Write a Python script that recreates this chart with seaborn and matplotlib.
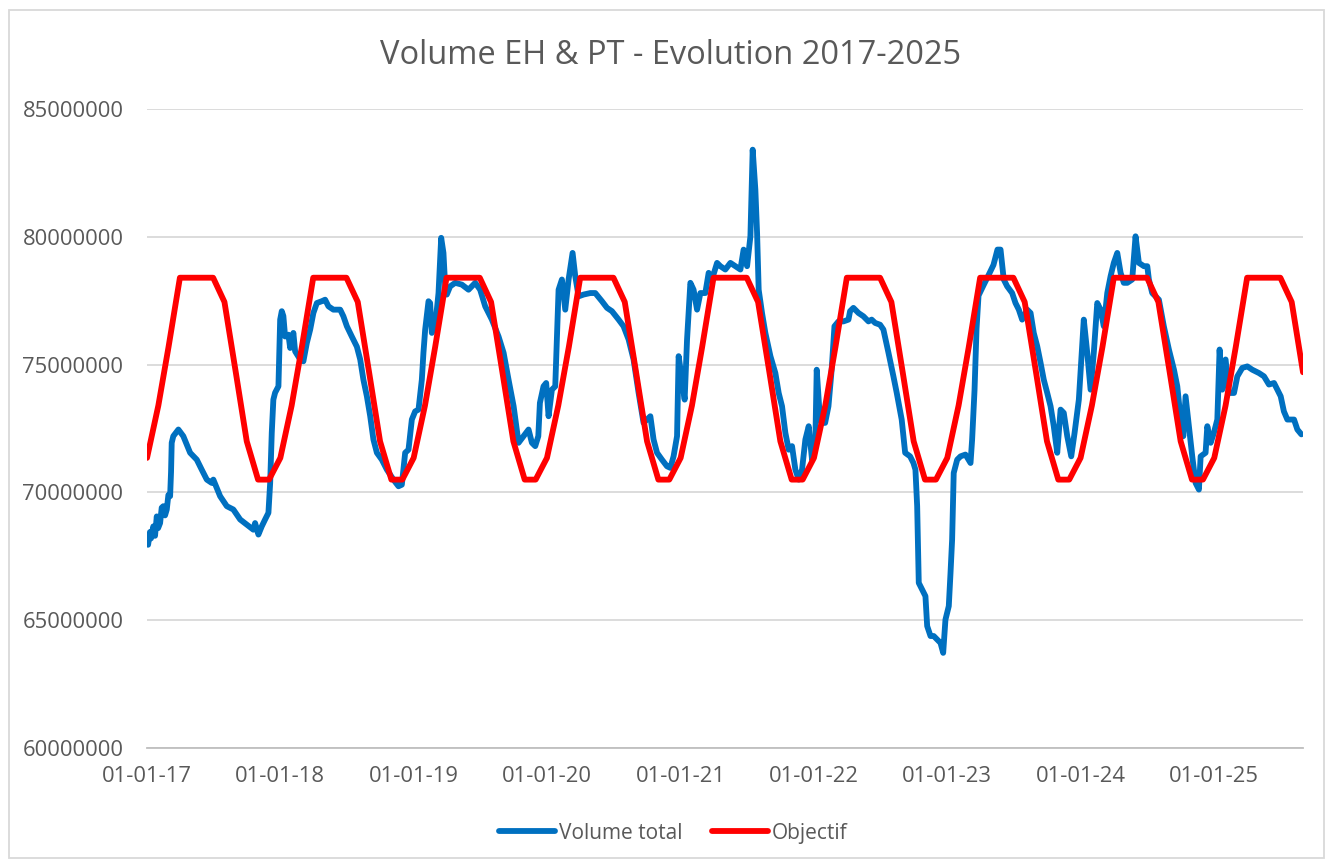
import numpy as np
import pandas as pd
import matplotlib
matplotlib.use("Agg")
import matplotlib.pyplot as plt
import matplotlib.dates as mdates
from matplotlib.ticker import FuncFormatter, MultipleLocator
from matplotlib.patches import Rectangle
import seaborn as sns

# Volume total : years elapsed since 01-01-2017, volume in millions
blue_yr = [
    0.000, 0.008, 0.022, 0.030, 0.047, 0.060, 0.073, 0.083, 0.098, 0.110,
    0.122, 0.135, 0.148, 0.160, 0.173, 0.180, 0.185, 0.197, 0.235, 0.272,
    0.323, 0.373, 0.410, 0.448, 0.485, 0.497, 0.548, 0.598, 0.647, 0.698,
    0.748, 0.797, 0.810, 0.835, 0.860, 0.885, 0.910, 0.923, 0.935, 0.947,
    0.960, 0.985, 0.998, 1.010, 1.022, 1.035, 1.060, 1.073, 1.097, 1.110,
    1.148, 1.172, 1.198, 1.223, 1.247, 1.273, 1.310, 1.335, 1.360, 1.397,
    1.448, 1.472, 1.498, 1.535, 1.573, 1.598, 1.622, 1.648, 1.673, 1.697,
    1.723, 1.760, 1.798, 1.847, 1.885, 1.910, 1.935, 1.960, 1.985, 2.010,
    2.035, 2.060, 2.072, 2.085, 2.110, 2.122, 2.135, 2.160, 2.185, 2.205,
    2.222, 2.235, 2.247, 2.272, 2.310, 2.360, 2.410, 2.460, 2.497, 2.535,
    2.585, 2.635, 2.673, 2.710, 2.748, 2.785, 2.823, 2.860, 2.885, 2.910,
    2.933, 2.945, 2.972, 2.992, 3.010, 3.035, 3.060, 3.085, 3.110, 3.135,
    3.160, 3.190, 3.210, 3.235, 3.272, 3.323, 3.360, 3.410, 3.448, 3.485,
    3.535, 3.572, 3.610, 3.647, 3.685, 3.722, 3.748, 3.773, 3.797, 3.823,
    3.860, 3.898, 3.923, 3.947, 3.973, 3.985, 4.010, 4.030, 4.048, 4.073,
    4.097, 4.123, 4.148, 4.185, 4.210, 4.235, 4.273, 4.298, 4.335, 4.373,
    4.410, 4.448, 4.472, 4.498, 4.523, 4.540, 4.560, 4.573, 4.585, 4.610,
    4.635, 4.673, 4.710, 4.735, 4.760, 4.785, 4.810, 4.835, 4.860, 4.885,
    4.910, 4.935, 4.960, 4.985, 5.010, 5.020, 5.038, 5.057, 5.083, 5.108,
    5.132, 5.153, 5.183, 5.220, 5.258, 5.270, 5.295, 5.333, 5.370, 5.408,
    5.432, 5.458, 5.495, 5.520, 5.558, 5.595, 5.620, 5.657, 5.683, 5.720,
    5.745, 5.760, 5.773, 5.785, 5.810, 5.835, 5.848, 5.873, 5.897, 5.923,
    5.948, 5.968, 5.985, 6.010, 6.023, 6.035, 6.047, 6.073, 6.098, 6.135,
    6.173, 6.185, 6.203, 6.218, 6.233, 6.270, 6.308, 6.345, 6.375, 6.398,
    6.422, 6.448, 6.485, 6.510, 6.535, 6.560, 6.598, 6.623, 6.647, 6.673,
    6.698, 6.722, 6.748, 6.773, 6.797, 6.823, 6.848, 6.872, 6.898, 6.928,
    6.953, 6.985, 7.022, 7.048, 7.073, 7.097, 7.123, 7.148, 7.172, 7.198,
    7.223, 7.247, 7.273, 7.298, 7.322, 7.348, 7.385, 7.410, 7.435, 7.473,
    7.498, 7.510, 7.535, 7.585, 7.622, 7.660, 7.698, 7.723, 7.748, 7.768,
    7.785, 7.810, 7.835, 7.860, 7.885, 7.898, 7.935, 7.948, 7.973, 7.997,
    8.023, 8.040, 8.060, 8.085, 8.110, 8.148, 8.173, 8.210, 8.248, 8.285,
    8.335, 8.373, 8.410, 8.448, 8.473, 8.498, 8.522, 8.548, 8.598, 8.623,
    8.653,
]
blue_val = [
    68.15, 67.95, 68.45, 68.20, 68.67, 68.30, 69.06, 68.60, 68.80, 69.40,
    69.46, 69.10, 69.33, 69.90, 69.85, 70.80, 71.94, 72.20, 72.46, 72.20,
    71.55, 71.28, 70.89, 70.50, 70.37, 70.50, 69.85, 69.46, 69.33, 68.94,
    68.74, 68.54, 68.80, 68.35, 68.67, 68.94, 69.20, 70.37, 72.33, 73.63,
    73.90, 74.15, 76.76, 77.09, 76.90, 76.10, 76.17, 75.65, 76.24, 75.52,
    75.20, 75.13, 75.85, 76.37, 77.02, 77.41, 77.48, 77.54, 77.28, 77.15,
    77.15, 76.89, 76.50, 76.10, 75.70, 75.20, 74.41, 73.76, 72.98, 72.07,
    71.55, 71.28, 70.89, 70.50, 70.24, 70.30, 71.55, 71.67, 72.85, 73.17,
    73.24, 74.41, 75.46, 76.37, 77.48, 77.41, 76.24, 76.50, 77.80, 79.96,
    79.37, 78.06, 77.74, 78.06, 78.20, 78.13, 77.93, 78.20, 77.93, 77.28,
    76.76, 76.10, 75.46, 74.41, 73.37, 71.94, 72.20, 72.46, 71.94, 71.81,
    72.20, 73.50, 74.15, 74.28, 72.98, 74.02, 74.15, 77.93, 78.33, 77.15,
    78.33, 79.37, 78.46, 77.67, 77.74, 77.80, 77.80, 77.48, 77.22, 77.09,
    76.76, 76.50, 75.98, 75.20, 73.89, 72.72, 72.85, 72.98, 72.07, 71.55,
    71.28, 71.02, 70.96, 71.41, 72.20, 75.33, 74.41, 73.63, 75.98, 78.20,
    77.93, 77.15, 77.80, 77.80, 78.59, 78.33, 78.98, 78.85, 78.72, 78.98,
    78.85, 78.72, 79.50, 78.85, 80.02, 83.41, 81.85, 80.15, 77.93, 77.02,
    76.24, 75.33, 74.67, 73.89, 73.37, 72.33, 71.67, 71.81, 70.89, 70.50,
    70.89, 72.07, 72.59, 71.28, 72.07, 74.80, 73.37, 72.72, 72.72, 73.37,
    74.80, 76.50, 76.69, 76.69, 76.76, 77.09, 77.22, 77.02, 76.89, 76.69,
    76.76, 76.63, 76.56, 76.37, 75.46, 74.54, 73.89, 72.85, 71.55, 71.41,
    71.15, 70.89, 69.46, 66.46, 66.20, 65.94, 64.77, 64.38, 64.38, 64.24,
    64.11, 63.72, 65.02, 65.55, 66.85, 68.15, 70.76, 71.28, 71.41, 71.48,
    71.15, 72.07, 74.00, 76.40, 77.70, 78.10, 78.50, 78.90, 79.50, 79.50,
    78.33, 78.06, 77.80, 77.41, 77.15, 76.76, 77.15, 77.02, 76.24, 75.72,
    75.07, 74.41, 73.89, 73.37, 72.59, 71.55, 73.24, 73.11, 72.20, 71.41,
    72.33, 73.63, 76.76, 75.46, 74.02, 75.46, 77.41, 77.15, 76.50, 77.80,
    78.46, 78.98, 79.37, 78.59, 78.20, 78.20, 78.33, 80.02, 78.98, 78.85,
    78.85, 78.33, 77.80, 77.54, 76.50, 75.59, 74.80, 74.15, 72.85, 72.20,
    73.76, 72.59, 71.41, 70.37, 70.11, 71.41, 71.55, 72.59, 71.94, 72.33,
    72.85, 75.59, 74.02, 75.20, 73.89, 73.89, 74.54, 74.87, 74.93, 74.80,
    74.67, 74.54, 74.22, 74.28, 74.02, 73.76, 73.17, 72.85, 72.85, 72.46,
    72.27,
]

# Objectif : monthly target (millions), same profile each year, Jan .. Dec
target_months = [71.35, 73.40, 75.70, 78.40, 78.40, 78.40,
                 78.40, 77.45, 74.70, 72.00, 70.50, 70.50]
target_start = "2017-01-01"
target_end = "2025-09-01"

x_ticks = pd.date_range("2017-01-01", "2025-01-01", freq="YS")

base = pd.Timestamp("2017-01-01")
df_vol = pd.DataFrame({
    "date": base + pd.to_timedelta(np.array(blue_yr) * 365.25, unit="D"),
    "value": np.array(blue_val) * 1e6,
})
target_dates = pd.date_range(target_start, target_end, freq="MS")
df_obj = pd.DataFrame({
    "date": target_dates,
    "value": np.array([target_months[d.month - 1] for d in target_dates]) * 1e6,
})

sns.set_style("white")
plt.rcParams["font.family"] = ["Open Sans", "DejaVu Sans"]
grey = "#595959"

fig = plt.figure(figsize=(13.33, 8.66), dpi=100)
ax = fig.add_axes([0.1103, 0.1363, 0.8672, 0.7378])

sns.lineplot(data=df_vol, x="date", y="value", ax=ax, color="#0070C0",
             linewidth=4.2, label="Volume total")
sns.lineplot(data=df_obj, x="date", y="value", ax=ax, color="#FF0000",
             linewidth=4.2, label="Objectif")
for ln in ax.lines:
    ln.set_solid_capstyle("round")
    ln.set_solid_joinstyle("round")

ax.set_ylim(60e6, 85e6)
ax.yaxis.set_major_locator(MultipleLocator(5e6))
ax.yaxis.set_major_formatter(FuncFormatter(lambda v, p: f"{v:.0f}"))
ax.set_xlim(pd.Timestamp("2017-01-01"), pd.Timestamp("2025-09-01"))
ax.set_xticks(x_ticks)
ax.xaxis.set_major_formatter(mdates.DateFormatter("%d-%m-%y"))

ax.grid(axis="y", color="#D9D9D9", linewidth=1.3)
ax.grid(axis="x", visible=False)
for s in ["top", "right", "left"]:
    ax.spines[s].set_visible(False)
ax.spines["bottom"].set_color("#BFBFBF")
ax.spines["bottom"].set_linewidth(1.3)
ax.tick_params(axis="y", length=0, pad=17, labelsize=15.8, labelcolor=grey)
ax.tick_params(axis="x", length=5, width=1.3, color="#BFBFBF", pad=8,
               labelsize=15.8, labelcolor=grey)
ax.set_xlabel("")
ax.set_ylabel("")

fig.text(0.503, 0.936, "Volume EH & PT - Evolution 2017-2025",
         ha="center", va="center", fontsize=23.5, color=grey)

handles, labels = ax.get_legend_handles_labels()
ax.legend_.remove()
fig.legend(handles, labels, loc="center", bbox_to_anchor=(0.505, 0.038),
           ncol=2, frameon=False, fontsize=15, labelcolor=grey,
           handlelength=2.7, handletextpad=0.2, columnspacing=1.4)

fig.patches.append(Rectangle((0.0068, 0.0092), 0.9865, 0.979,
                             transform=fig.transFigure, fill=False,
                             edgecolor="#D9D9D9", linewidth=1.3))

fig.savefig("out.png", dpi=100)
